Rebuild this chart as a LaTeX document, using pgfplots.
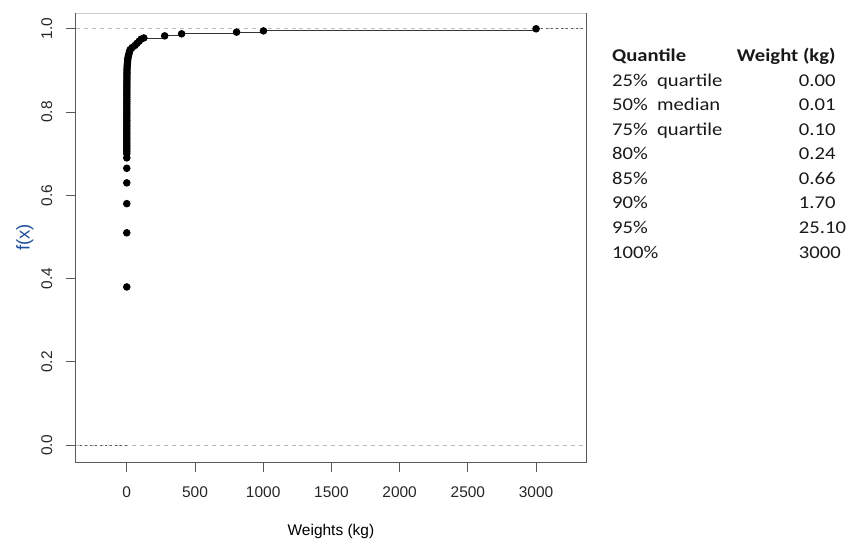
\documentclass[border=0pt]{standalone}
\usepackage{fontspec}
\setmainfont{Liberation Sans}
\newfontfamily\carlito{Carlito}
\usepackage{pgfplots}
\pgfplotsset{compat=1.18}
\definecolor{axgray}{HTML}{5A5A5A}
\definecolor{topgray}{HTML}{CCCCCC}
\definecolor{dashgray}{HTML}{BBBBBB}
\definecolor{labblue}{HTML}{1F4E9A}
\begin{document}
\begin{tikzpicture}
\begin{axis}[
  at={(0,0)}, anchor=south west,
  scale only axis, width=511pt, height=450pt,
  xmin=-373, xmax=3366, ymin=-0.041, ymax=1.038,
  axis line style={draw=none},
  xtick={0,500,1000,1500,2000,2500,3000},
  ytick={0,0.2,0.4,0.6,0.8,1.0},
  yticklabels={0.0,0.2,0.4,0.6,0.8,1.0},
  xticklabels={0,500,1000,1500,2000,2500,3000},
  tick align=outside, major tick length=10pt,
  tick style={axgray, line width=0.9pt},
  xtick pos=bottom, ytick pos=left,
  /pgf/number format/assume math mode=true,
  tick label style={font=\fontsize{15.5}{17}\selectfont, color=black!85},
  yticklabel style={xshift=-10pt, rotate=90, anchor=south},
  xticklabel style={anchor=north, yshift=-11pt},
  xlabel={Weights (kg)}, ylabel={\textcolor{labblue}{f(x)}},
  every axis x label/.style={at={(rel axis cs:0.5,0)}, anchor=center, yshift=-69pt, font=\fontsize{15.5}{17}\selectfont},
  every axis y label/.style={at={(rel axis cs:0,0.5)}, xshift=-51pt, rotate=90, anchor=center, font=\fontsize{18.5}{20}\selectfont},
  clip=false,
]
% dashed reference lines
\addplot[dashgray, dash pattern=on 4pt off 4pt, line width=0.7pt, forget plot] coordinates {(-373,0) (3366,0)};
\addplot[dashgray, dash pattern=on 4pt off 4pt, line width=0.7pt, forget plot] coordinates {(-373,1) (3366,1)};
% tails
\addplot[axgray, dash pattern=on 2pt off 3pt, line width=0.9pt, forget plot] coordinates {(-340,0) (0,0)};
\addplot[axgray, dash pattern=on 2pt off 3pt, line width=0.9pt, forget plot] coordinates {(3000,1) (3366,1)};
% ecdf
\addplot[black!80, line width=0.9pt, jump mark left, mark=*, mark size=3.3pt, mark options={black, solid}] coordinates {
(0,0.38) (0.005,0.51) (0.01,0.58) (0.02,0.63) (0.03,0.665) (0.04,0.69)
(0.05,0.700) (0.06,0.705) (0.06,0.710) (0.07,0.715) (0.07,0.720) (0.08,0.725)
(0.08,0.730) (0.09,0.735) (0.09,0.740) (0.10,0.745) (0.10,0.750) (0.11,0.755)
(0.12,0.760) (0.13,0.765) (0.14,0.770) (0.15,0.775) (0.17,0.780) (0.18,0.785)
(0.20,0.790) (0.22,0.795) (0.24,0.800) (0.27,0.805) (0.30,0.810) (0.34,0.815)
(0.38,0.820) (0.42,0.825) (0.46,0.830) (0.51,0.835) (0.58,0.840) (0.62,0.845)
(0.66,0.850) (0.72,0.855) (0.80,0.860) (0.88,0.865) (0.95,0.870) (1.05,0.875)
(1.2,0.880) (1.35,0.885) (1.5,0.890) (1.6,0.895) (1.7,0.900) (2.2,0.905)
(3,0.910) (4,0.915) (5.5,0.920) (7,0.925) (9,0.930) (12,0.935)
(16,0.940) (20,0.945) (25.1,0.950) (40,0.955) (60,0.960) (75,0.965)
(90,0.970) (105,0.975) (125,0.978) (278,0.983) (402,0.988) (805,0.992)
(1002,0.995) (3000,1.0)
};
% box
\draw[axgray, line width=0.9pt] (rel axis cs:0,1) -- (rel axis cs:0,0) -- (rel axis cs:1,0) -- (rel axis cs:1,1);
\draw[topgray, line width=0.9pt] (rel axis cs:0,1) -- (rel axis cs:1,1);
\end{axis}
% quantile table
\begin{scope}[every node/.style={anchor=base west, inner sep=0pt, xscale=1.15, text=black!90, font=\carlito\fontsize{18}{20}\selectfont}]
\node at (537pt,401.3pt) {\bfseries Quantile};
\node at (662pt,401.3pt) {\bfseries Weight (kg)};
\node at (537pt,376.7pt) {25\%}; \node at (582pt,376.7pt) {quartile}; \node at (724pt,376.7pt) {0.00};
\node at (537pt,352.1pt) {50\%}; \node at (582pt,352.1pt) {median}; \node at (724pt,352.1pt) {0.01};
\node at (537pt,327.5pt) {75\%}; \node at (582pt,327.5pt) {quartile}; \node at (724pt,327.5pt) {0.10};
\node at (537pt,302.9pt) {80\%}; \node at (724pt,302.9pt) {0.24};
\node at (537pt,278.3pt) {85\%}; \node at (724pt,278.3pt) {0.66};
\node at (537pt,253.7pt) {90\%}; \node at (724pt,253.7pt) {1.70};
\node at (537pt,229.1pt) {95\%}; \node at (724pt,229.1pt) {25.10};
\node at (537pt,204.5pt) {100\%}; \node at (724pt,204.5pt) {3000};
\end{scope}
\path[use as bounding box] (-76pt,-77pt) rectangle (770pt,463pt);
\end{tikzpicture}
\end{document}
